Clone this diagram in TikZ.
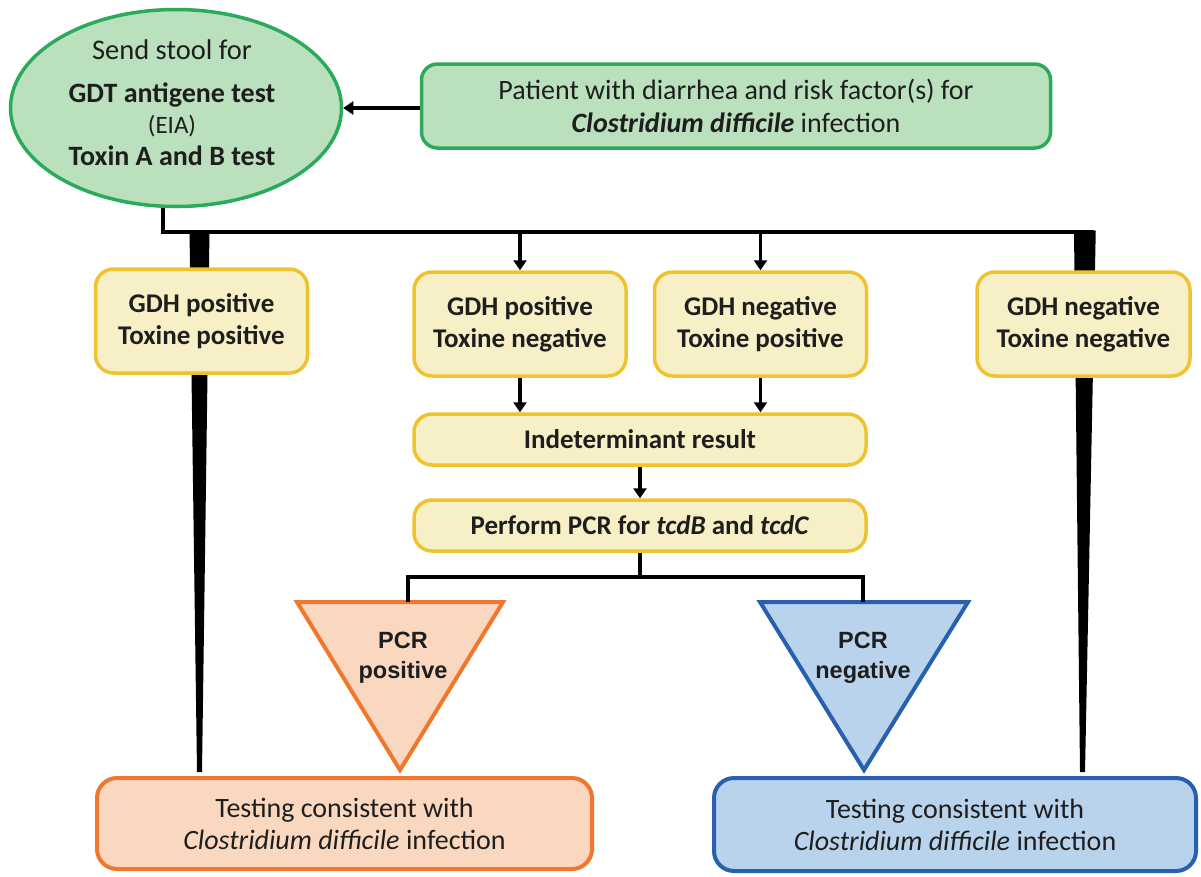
\documentclass[tikz,border=0pt]{standalone}
\usepackage{fontspec}
\setmainfont{Carlito}
\newfontfamily\arialfont{Liberation Sans}
\usetikzlibrary{arrows.meta,shapes.geometric,calc}
\definecolor{gfill}{HTML}{BBE0BE}
\definecolor{gline}{HTML}{2BAA5C}
\definecolor{yfill}{HTML}{F7EFC6}
\definecolor{yline}{HTML}{EFC330}
\definecolor{ofill}{HTML}{FAD8C0}
\definecolor{oline}{HTML}{F0772E}
\definecolor{bfill}{HTML}{BAD3EC}
\definecolor{bline}{HTML}{2760AE}
\definecolor{txt}{HTML}{1E1E1E}
\pgfdeclarelayer{bg}
\pgfsetlayers{bg,main}
\begin{document}
\begin{tikzpicture}[x=1pt,y=-1pt,
  ybox/.style={draw=yline,fill=yfill,line width=3.5pt,rounded corners=18pt,inner sep=0pt,
    align=center,text=txt,font=\fontsize{27}{32}\selectfont\bfseries},
  gbox/.style={draw=gline,fill=gfill,line width=3.5pt,rounded corners=16pt,inner sep=0pt,
    align=center,text=txt,font=\fontsize{28}{33}\selectfont},
  obox/.style={draw=oline,fill=ofill,line width=4pt,rounded corners=20pt,inner sep=0pt,
    align=center,text=txt,font=\fontsize{28}{32}\selectfont},
  bbox/.style={draw=bline,fill=bfill,line width=4pt,rounded corners=20pt,inner sep=0pt,
    align=center,text=txt,font=\fontsize{28}{32}\selectfont},
  elltext/.style={anchor=base,text=txt,inner sep=0pt},
  trilabel/.style={align=center,text=txt,inner sep=0pt,font=\arialfont\fontsize{23.5}{30}\selectfont\bfseries},
  conn/.style={line width=3.5pt,black},
  arr/.style={conn,-{Triangle[length=10pt,width=13pt]}},
  wedge/.style={fill=black}]
\useasboundingbox (0,0) rectangle (1201,876);

% top
\node[ellipse,draw=gline,fill=gfill,line width=3.5pt,minimum width=331,minimum height=197,inner sep=0pt] (ell) at (176,108) {};
\node[elltext,font=\fontsize{28.5}{30}\selectfont] (e1) at (172,59) {Send stool for};
\node[elltext,font=\fontsize{28}{30}\selectfont\bfseries] (e2) at (172,102) {GDT antigene test};
\node[elltext,font=\fontsize{25}{28}\selectfont] (e3) at (172,133) {(EIA)};
\node[elltext,font=\fontsize{28}{30}\selectfont\bfseries] (e4) at (172,165) {Toxin A and B test};

\node[gbox,minimum width=629,minimum height=84] (pat) at (736,106)
  {Patient with diarrhea and risk factor(s) for\\\textbf{\textit{Clostridium difficile}} infection};

% result boxes
\node[ybox,minimum width=212,minimum height=104] (b1) at (201.5,321) {GDH positive\\Toxine positive};
\node[ybox,minimum width=212,minimum height=104] (b2) at (520,324) {GDH positive\\Toxine negative};
\node[ybox,minimum width=212,minimum height=104] (b3) at (760.5,324) {GDH negative\\Toxine positive};
\node[ybox,minimum width=213,minimum height=104] (b4) at (1083.5,324) {GDH negative\\Toxine negative};

\node[ybox,minimum width=452,minimum height=51] (ind) at (640,439.5) {Indeterminant result};
\node[ybox,minimum width=452,minimum height=51] (pcr) at (640,525.5) {Perform PCR for \textit{tcdB} and \textit{tcdC}};

% triangles
\coordinate (ptl) at (297,602);
\coordinate (ptr) at (503,602);
\coordinate (pap) at (400,770);
\coordinate (ptop) at (408,602);
\draw[draw=oline,fill=ofill,line width=4pt] (ptl) -- (ptr) -- (pap) -- cycle;
\node[trilabel] (ptxt) at (403,658) {PCR\\positive};

\coordinate (ntl) at (760,602);
\coordinate (ntr) at (968,602);
\coordinate (nap) at (864,770);
\coordinate (ntop) at (863,602);
\draw[draw=bline,fill=bfill,line width=4pt] (ntl) -- (ntr) -- (nap) -- cycle;
\node[trilabel] (ntxt) at (863,658) {PCR\\negative};

% bottom boxes
\node[obox,minimum width=495,minimum height=91] (ores) at (344.5,823.5)
  {Testing consistent with\\\textit{Clostridium difficile} infection};
\node[bbox,minimum width=482,minimum height=93] (bres) at (955,824.5)
  {Testing consistent with\\\textit{Clostridium difficile} infection};

% connectors
\coordinate (ellb) at ($(ell.south)+(-13,-1)$);
\coordinate (busL) at (ellb |- 0,232);
\coordinate (busR) at (1094,232);
\coordinate (sp) at (pcr.south |- 0,577);
\begin{pgfonlayer}{bg}
  \fill[wedge] (189.5,230.5) -- (209.5,230.5) -- (202,772) -- (197,772) -- cycle;
  \fill[wedge] (1074,230.5) -- (1095.75,230.5) -- (1085,772) -- (1080,772) -- cycle;
  \draw[conn] (ellb) -- (busL) -- (busR);
\end{pgfonlayer}
\draw[arr] (pat.west |- ell.east) -- (ell.east);
\draw[arr] (b2.north |- busR) -- (b2.north);
\draw[arr] (b3.north |- busR) -- (b3.north);
\draw[arr] (b2.south) -- (b2.south |- ind.north);
\draw[arr] (b3.south) -- (b3.south |- ind.north);
\draw[arr] (ind.south) -- (pcr.north);
\draw[conn] (pcr.south) -- (sp);
\draw[conn] (ptop) |- (sp) -| (ntop);
\end{tikzpicture}
\end{document}
